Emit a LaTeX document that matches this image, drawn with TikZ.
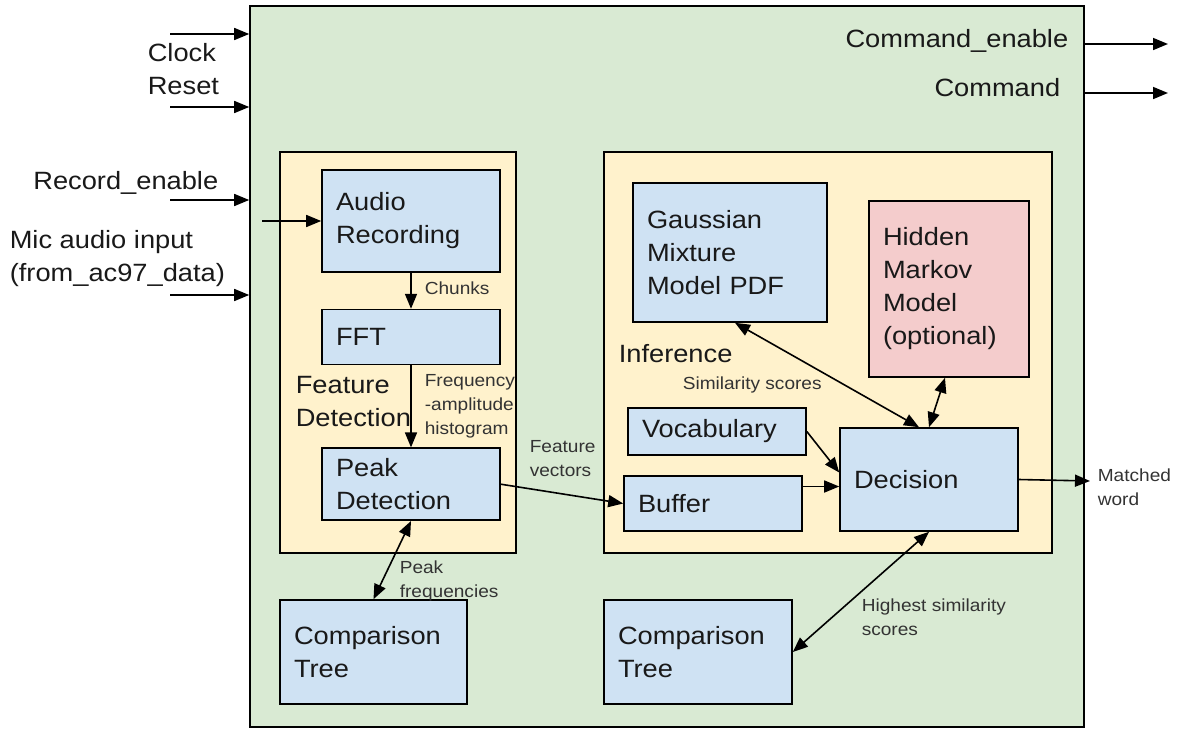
\documentclass[tikz,border=0pt]{standalone}
\usepackage{fontspec}
\setmainfont{Liberation Sans}[FakeStretch=1.09]
\usetikzlibrary{arrows.meta,positioning}

\definecolor{chipgreen}{HTML}{D9EAD3}
\definecolor{groupyellow}{HTML}{FFF2CC}
\definecolor{blockblue}{HTML}{CFE2F3}
\definecolor{optpink}{HTML}{F4CCCC}
\newcommand\bigtxt{\fontsize{25}{33}\selectfont}
\newcommand\smalltxt{\fontsize{17.5}{24}\selectfont}

\begin{document}
\begin{tikzpicture}[x=1pt,y=-1pt,>={Triangle[length=15pt,width=12pt]},->,
                    line width=1.6pt,
                    chip/.style={draw,inner sep=0pt},
                    block/.style={draw,fill=blockblue,inner xsep=14pt,inner ysep=0pt,
                                  align=left,font=\bigtxt,text=black!90},
                    big/.style={inner sep=0pt,align=left,font=\bigtxt,text=black!90},
                    small/.style={inner sep=0pt,align=left,font=\smalltxt,text=black!80}]

  \path[use as bounding box] (0,0) rectangle (1182,728);

  % chip and the two groups
  \node[chip,fill=chipgreen,minimum width=834pt,minimum height=721pt]   (top)   at (667,366.5) {};
  \node[chip,fill=groupyellow,minimum width=236pt,minimum height=401pt] (feat)  at (398,352.5) {};
  \node[chip,fill=groupyellow,minimum width=448pt,minimum height=401pt] (infer) at (828,352.5) {};

  % feature detection
  \node[block,text width=150pt,minimum height=102pt] (rec)  at (411,221)       {Audio\\Recording};
  \node[block,text width=150pt,minimum height=55pt]  (fft)  [below=36pt of rec] {FFT};
  \node[block,text width=150pt,minimum height=72pt]  (peak) [below=82pt of fft] {Peak\\Detection};
  \node[block,text width=159pt,minimum height=104pt] (cmpL) at (373.5,652)     {Comparison\\Tree};

  % inference
  \node[block,text width=166pt,minimum height=139pt] (gmm)   at (730,252.5) {Gaussian\\Mixture\\Model PDF};
  \node[block,fill=optpink,text width=132pt,minimum height=176pt] (hmm) at (949,289) {Hidden\\Markov\\Model\\(optional)};
  \node[block,text width=150pt,minimum height=47pt]  (vocab) at (717,431.5) {Vocabulary};
  \node[block,text width=150pt,minimum height=55pt]  (buf)   at (713,503.5) {Buffer};
  \node[block,text width=150pt,minimum height=103pt] (dec)   at (929,479.5) {Decision};
  \node[block,text width=160pt,minimum height=104pt] (cmpR)  at (698,652)   {Comparison\\Tree};

  % ports
  \coordinate (clk)   at (170,34);
  \coordinate (rst)   at (170,107);
  \coordinate (recen) at (170,200);
  \coordinate (mic)   at (170,295);
  \coordinate (micin) at (262,221);
  \coordinate (cen)   at (1168,44);
  \coordinate (cmd)   at (1168,93);
  \coordinate (word)  at (1090,481);
  \coordinate (bufout) at ([yshift=17pt]buf.east);

  \path (clk)   edge (clk -| top.west)
        (rst)   edge (rst -| top.west)
        (recen) edge (recen -| top.west)
        (mic)   edge (mic -| top.west)
        (micin) edge (rec.west)
        (top.east |- cen) edge (cen)
        (top.east |- cmd) edge (cmd);

  \path (rec)  edge (fft)
        (fft)  edge (peak)
        (peak.south) edge [<->] (cmpL.north)
        (peak.east)  edge (buf.west)
        (vocab.east) edge ([yshift=7pt]dec.west)
        (bufout)     edge (bufout -| dec.west)
        ([xshift=5pt]gmm.south)  edge [<->] ([xshift=-10pt]dec.north)
        ([xshift=-4pt]hmm.south) edge [<->] (dec.north)
        (dec.south)  edge [<->] (cmpR.east)
        (dec.east)   edge (word);

  % labels
  \node[big,anchor=west]   (lclk)  at (147,69)   {Clock\\Reset};
  \node[big,anchor=east]   (lrec)  at (219,183)  {Record\_enable};
  \node[big,anchor=west]   (lmic)  at (9,259)    {Mic audio input\\(from\_ac97\_data)};
  \node[big,anchor=east]   (lcen)  at (1069,41)  {Command\_enable};
  \node[big,anchor=east]   (lcmd)  at (1061,88)  {Command};
  \node[big,anchor=west]   (lfeat) at (295,402)  {Feature\\Detection};
  \node[big,anchor=west]   (linf)  at (618,354)  {Inference};
  \node[small,anchor=west] (lchk)  at (424,288)  {Chunks};
  \node[small,anchor=west] (lhist) at (424,406.5) {Frequency\\-amplitude\\histogram};
  \node[small,anchor=west] (lvec)  at (529,458.5) {Feature\\vectors};
  \node[small,anchor=west] (lpkf)  at (399,580.5) {Peak\\frequencies};
  \node[small,anchor=west] (lsim)  at (682,385)  {Similarity scores};
  \node[small,anchor=west] (lhigh) at (861,617.5) {Highest similarity\\scores};
  \node[small,anchor=west] (lword) at (1097,487.5) {Matched\\word};
\end{tikzpicture}
\end{document}
